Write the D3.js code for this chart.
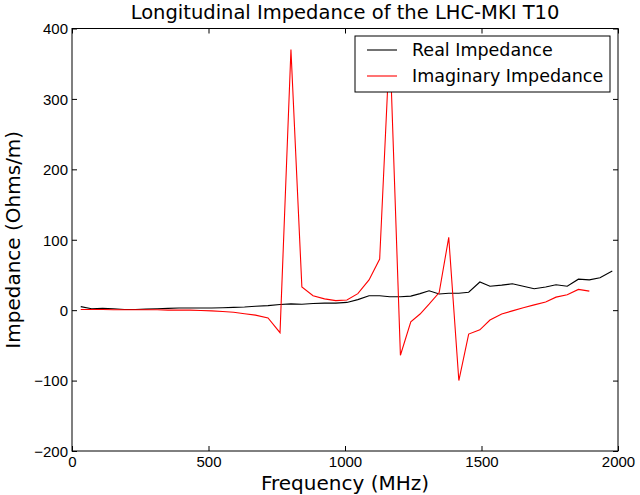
<!DOCTYPE html>
<html>
<head>
<meta charset="utf-8">
<script src="https://cdn.jsdelivr.net/npm/d3@7"></script>
<style>
  body { margin: 0; background: #fff; }
  svg { font-family: "DejaVu Sans", sans-serif; }
  .axis path, .axis line { stroke: #000; }
  .axis text { font-size: 15px; fill: #000; }
</style>
</head>
<body>
<svg id="chart" width="640" height="495"></svg>
<script>
// frequency samples (MHz)
var freq = [32, 72, 112, 152, 192, 232, 272, 312, 352, 392, 432, 472, 512, 552, 592, 632, 672, 718,
  762, 802, 842, 883, 925, 966, 1007, 1047, 1088, 1127, 1164, 1203, 1241, 1275, 1308, 1345, 1380,
  1417, 1453, 1494, 1531, 1574, 1613, 1653, 1693, 1735, 1773, 1814, 1855, 1895, 1934, 1979];

var realZ = [5, 2, 2.5, 2, 1, 1, 1.5, 2, 2.5, 3, 3, 3, 3, 3.5, 4, 4.5, 5.5, 6.5,
  8, 9, 8.5, 9.5, 10, 10, 11, 15, 20.5, 20.5, 19, 19, 20, 23.5, 27.5, 23, 24,
  24, 25.5, 40, 34, 35.5, 37.5, 34, 30.5, 33, 36, 34, 44, 43, 46, 55.5];

var imagZ = [1, 1, 1, 0.5, 0.5, 0.5, 0.5, 0.5, 0, 0, 0, -0.5, -1, -2, -3, -5, -7, -11,
  -32, 370, 33, 20.5, 16, 13.5, 14.5, 23.5, 43, 72.5, 380, -64, -16.5, -5.5, 8.5, 25, 103.5,
  -100, -34, -28, -14, -5.5, -1, 3.5, 7.5, 11.5, 18.5, 22, 29.5, 27, null, null];

var xTicks = [0, 500, 1000, 1500, 2000];
var yTicks = [-200, -100, 0, 100, 200, 300, 400];
var seriesNames = ["Real Impedance", "Imaginary Impedance"];
var seriesColors = ["#000000", "#ff0000"];

var svg = d3.select("#chart"),
  MARGINS = { top: 28.5, right: 22, bottom: 44, left: 72 },
  WIDTH = 640, HEIGHT = 495;

var x = d3.scaleLinear().domain([0, 2000]).range([MARGINS.left, WIDTH - MARGINS.right]);
var y = d3.scaleLinear().domain([-200, 400]).range([HEIGHT - MARGINS.bottom, MARGINS.top]);

svg.append("clipPath").attr("id", "clip").append("rect")
  .attr("x", x(0)).attr("y", y(400))
  .attr("width", x(2000) - x(0)).attr("height", y(-200) - y(400));

// lines
[realZ, imagZ].forEach(function(vals, k) {
  var line = d3.line()
    .defined(function(d) { return d != null; })
    .x(function(d, i) { return x(freq[i]); })
    .y(function(d) { return y(d); });
  svg.append("path")
    .attr("clip-path", "url(#clip)")
    .attr("fill", "none")
    .attr("stroke", seriesColors[k])
    .attr("stroke-width", 1.1)
    .attr("d", line(vals));
});

// axes, ticks pointing inwards on all four sides
var fmt = function(d) { return d < 0 ? "\u2212" + Math.abs(d) : d; };
var gx = svg.append("g").attr("class", "axis")
  .attr("transform", "translate(0," + y(-200) + ")")
  .call(d3.axisBottom(x).tickValues(xTicks).tickFormat(fmt).tickSizeInner(-5).tickSizeOuter(0).tickPadding(0));
gx.selectAll("text").attr("y", 3).attr("dy", "0.85em");
svg.append("g").attr("class", "axis")
  .attr("transform", "translate(0," + y(400) + ")")
  .call(d3.axisTop(x).tickValues(xTicks).tickFormat("").tickSizeInner(-5).tickSizeOuter(0));
var gy = svg.append("g").attr("class", "axis")
  .attr("transform", "translate(" + x(0) + ",0)")
  .call(d3.axisLeft(y).tickValues(yTicks).tickFormat(fmt).tickSizeInner(-5).tickSizeOuter(0).tickPadding(0));
gy.selectAll("text").attr("x", -4).attr("dy", "0.35em");
svg.append("g").attr("class", "axis")
  .attr("transform", "translate(" + x(2000) + ",0)")
  .call(d3.axisRight(y).tickValues(yTicks).tickFormat("").tickSizeInner(-5).tickSizeOuter(0));

svg.selectAll(".axis path.domain").remove();
svg.append("rect")
  .attr("x", x(0)).attr("y", y(400))
  .attr("width", x(2000) - x(0)).attr("height", y(-200) - y(400))
  .attr("fill", "none").attr("stroke", "#000").attr("stroke-width", 1);

// legend
var lg = svg.append("g").attr("transform", "translate(355,36)");
lg.append("rect").attr("width", 255).attr("height", 56)
  .attr("fill", "#fff").attr("stroke", "#000").attr("stroke-width", 1);
seriesNames.forEach(function(name, i) {
  lg.append("line")
    .attr("x1", 12).attr("x2", 42)
    .attr("y1", 14 + i * 26).attr("y2", 14 + i * 26)
    .attr("stroke", seriesColors[i]).attr("stroke-width", 1.1);
  lg.append("text")
    .attr("x", 57).attr("y", 14 + i * 26).attr("dy", "0.35em")
    .style("font-size", "17.5px")
    .text(name);
});

// titles
svg.append("text")
  .attr("x", (x(0) + x(2000)) / 2).attr("y", 19)
  .style("text-anchor", "middle").style("font-size", "19.5px")
  .text("Longitudinal Impedance of the LHC-MKI T10");

svg.append("text")
  .attr("x", (x(0) + x(2000)) / 2).attr("y", 490)
  .style("text-anchor", "middle").style("font-size", "20px")
  .text("Frequency (MHz)");

svg.append("text")
  .attr("transform", "translate(20," + ((y(400) + y(-200)) / 2) + ") rotate(-90)")
  .style("text-anchor", "middle").style("font-size", "20px")
  .text("Impedance (Ohms/m)");
</script>
</body>
</html>
